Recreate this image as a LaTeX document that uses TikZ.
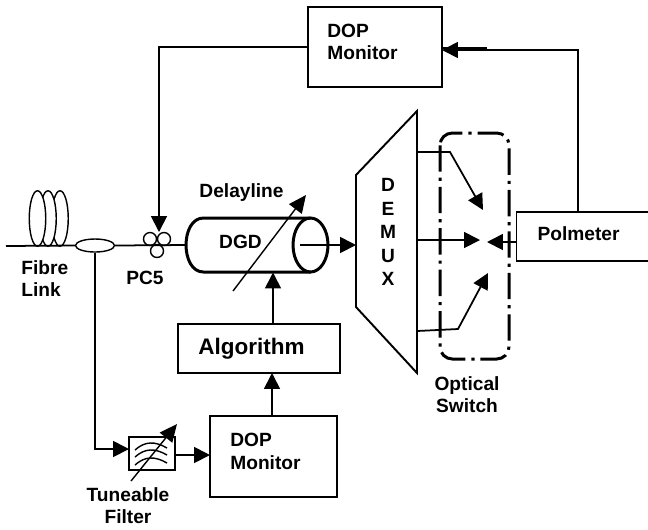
\documentclass[tikz,border=0pt]{standalone}
\usepackage{fontspec}
\setmainfont{Liberation Sans}
\usetikzlibrary{shapes.geometric, arrows.meta, positioning}

\begin{document}
\begin{tikzpicture}[
    x=0.02cm, y=-0.02cm,
    box/.style={rectangle, draw=black, line width=1.1pt, fill=white, inner sep=0pt},
    lab/.style={font=\bfseries\fontsize{10.9}{12.9}\selectfont, align=left, inner sep=0pt},
    fibre/.style={draw=black, line width=0.8pt, fill=white},
    line/.style={draw=black, line width=1pt},
    arr/.style={-{Triangle[length=9pt,width=9pt]}, line width=1pt},
    slash/.style={-{Triangle[length=10pt,width=9pt]}, line width=0.8pt},
]
\useasboundingbox (0,0) rectangle (648,529);

% boxes
\node[box, minimum width=2.68cm, minimum height=1.6cm] (topmon) at (375,47) {};
\node[box, minimum width=2.54cm, minimum height=1.62cm] (lowmon) at (273.5,456.5) {};
\node[box, minimum width=3.24cm, minimum height=0.98cm] (algo) at (259,348.5) {};
\node[box, minimum width=2.7cm, minimum height=0.98cm] (polm) at (584,236.5) {};
\node[box, minimum width=0.92cm, minimum height=0.66cm] (filter) at (152,453.5) {};

\node[lab, anchor=west] (topmonlab) at (327,42) {DOP\\Monitor};
\node[lab, anchor=west] (lowmonlab) at (230,451.5) {DOP\\Monitor};
\node[lab, font=\bfseries\fontsize{12.8}{15}\selectfont] (algolab) at (251.5,349) {Algorithm};
\node[lab] (polmlab) at (578.5,234) {Polmeter};

% fibre coil
\node[ellipse, fibre, minimum width=0.33cm, minimum height=1.11cm, inner sep=0pt] (coilc) at (60,218.5) {};
\node[ellipse, fibre, minimum width=0.33cm, minimum height=1.11cm, inner sep=0pt] (coilb) at (48,218.5) {};
\node[ellipse, fibre, minimum width=0.33cm, minimum height=1.11cm, inner sep=0pt] (coila) at (37.5,218.5) {};
\coordinate (fibrein) at (6,246);
\node[ellipse, fibre, minimum width=0.78cm, minimum height=0.26cm, inner sep=0pt] (coupler) at (95,245.5) {};
\draw[line] (fibrein) -- (coupler.west);
\node[lab, anchor=west] (fibrelab) at (21,278.5) {Fibre\\Link};

% PC5
\node[circle, fibre, minimum size=0.26cm, inner sep=0pt] (pca) at (150,239) {};
\node[circle, fibre, minimum size=0.26cm, inner sep=0pt] (pcb) at (164,239) {};
\node[circle, fibre, minimum size=0.26cm, inner sep=0pt] (pcc) at (157,251) {};
\node[lab] (pclab) at (145,278) {PC5};
\coordinate (pcin) at (159,232);

% delay line
\coordinate (dgdwest) at (186,245);
\draw[line] (coupler.east) -- (dgdwest);
\draw[line width=1.7pt] (310.5,218) -- (203.5,218) .. controls (180.2,218) and (180.2,272) .. (203.5,272) -- (310.5,272);
\node[ellipse, draw=black, line width=1.7pt, minimum width=0.7cm, minimum height=1.08cm, inner sep=0pt] (dgd) at (310.5,245) {};
\node[lab] (dgdlab) at (240.5,242) {DGD};
\node[lab] (delaylab) at (241.5,193) {Delayline};
\coordinate (delaya) at (233,291);
\coordinate (delayb) at (306,195);
\draw[slash] (delaya) -- (delayb);

% demux
\coordinate (dema) at (356,175);
\coordinate (demb) at (417,111);
\coordinate (demc) at (417,373);
\coordinate (demd) at (356,307);
\draw[line width=1.1pt, line join=miter] (dema) -- (demb) -- (demc) -- (demd) -- cycle;
\node[lab, align=center, font=\bfseries\fontsize{10.9}{13.4}\selectfont] (demlab) at (388,232) {D\\E\\M\\U\\X};
\coordinate (dgdout) at (300,245);
\coordinate (demin) at (356,245);
\draw[arr] (dgdout) -- (demin);

% switch
\coordinate (swa) at (440,133);
\coordinate (swb) at (509,359);
\draw[line width=1.7pt, rounded corners=7pt, dash pattern=on 15pt off 3.4pt on 1.8pt off 3.4pt] (swa) rectangle (swb);
\node[lab, align=center] (swlab) at (467,394.5) {Optical\\Switch};

\coordinate (outa) at (417,152);
\coordinate (benda) at (450,152);
\coordinate (tipa) at (483,210);
\coordinate (outb) at (417,240);
\coordinate (tipb) at (480,240);
\coordinate (outc) at (417,331);
\coordinate (bendc) at (458,329);
\coordinate (tipc) at (488,273);
\coordinate (polin) at (517,242);
\coordinate (polout) at (487,242);
\draw[arr] (outa) -- (benda) -- (tipa);
\draw[arr] (outb) -- (tipb);
\draw[arr] (outc) -- (bendc) -- (tipc);
\draw[arr] (polin) -- (polout);

% feedback
\coordinate (polup) at (578,212);
\coordinate (topcor) at (578,50);
\coordinate (topin) at (442,50);
\coordinate (stub) at (487,48);
\coordinate (topinb) at (442,48);
\draw[arr] (polup) -- (topcor) -- (topin);
\draw[line] (stub) -- (topinb);
\draw[arr] (topmon.west) -| (pcin);

% lower branch
\coordinate (filin) at (129,449);
\coordinate (filout) at (175,455);
\coordinate (monin) at (210,455);
\draw[arr] (coupler.south) |- (filin);
\draw[arr] (filout) -- (monin);
\coordinate (lowup) at (272,416);
\coordinate (algodown) at (272,373);
\draw[arr] (lowup) -- (algodown);
\coordinate (algoup) at (273,324);
\coordinate (dgdin) at (273,272.5);
\draw[arr] (algoup) -- (dgdin);

% filter
\foreach \yy in {0,7,15}{
  \draw[line width=0.8pt] (135,450+\yy) .. controls (145,441+\yy) and (155,441+\yy) .. (167,448+\yy);
}
\coordinate (fila) at (131,481);
\coordinate (filb) at (177,424);
\draw[slash] (fila) -- (filb);
\node[lab, align=center] (fillab) at (128,505.5) {Tuneable\\Filter};

\end{tikzpicture}
\end{document}
